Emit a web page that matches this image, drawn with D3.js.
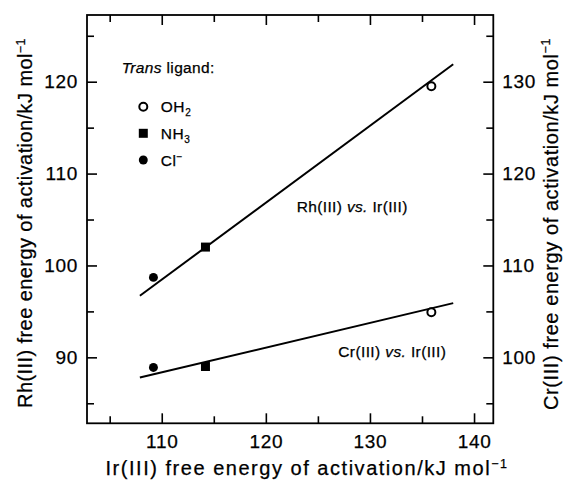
<!DOCTYPE html>
<html>
<head>
<meta charset="utf-8">
<script src="https://cdn.jsdelivr.net/npm/d3@7"></script>
<style>
body { margin: 0; background: #fff; }
svg { display: block; font-family: "Liberation Sans", Arial, sans-serif; }
svg text { stroke: #000; stroke-width: 0.25px; }
</style>
</head>
<body>
<div class="chart"></div>
<script>
// values (kJ/mol)
const ligands = ["OH2", "NH3", "Cl"];
const irEnergy = [135.9, 114.2, 109.2];
const rhEnergy = [119.5, 102.0, 98.7];
const crEnergy = [104.9, 99.0, 98.9];
// fitted lines, end points
const fitIr = [107.9, 138];
const fitRh = [96.7, 121.9];
const fitCr = [97.8, 105.9];
// ticks
const xTicks = [110, 120, 130, 140];
const xMinor = [105, 115, 125, 135];
const yTicks = [90, 100, 110, 120];
const yMinor = [85, 95, 105, 115, 125];
const yRightTicks = [100, 110, 120, 130];
const yRightMinor = [95, 105, 115, 125, 135];

const width = 571;
const height = 488;
const margin = {top: 15, right: 77.7, bottom: 64.7, left: 87};

const svg = d3.select(".chart")
  .append("svg")
  .attr("width", width)
  .attr("height", height);

const x = d3.scaleLinear()
  .domain([102.82, 141.85])
  .range([margin.left, width - margin.right]);

// left axis is Rh(III), right axis is Cr(III), offset by 10
const y = d3.scaleLinear()
  .domain([82.82, 127.26])
  .range([height - margin.bottom, margin.top]);

const yR = d3.scaleLinear()
  .domain([92.82, 137.26])
  .range([height - margin.bottom, margin.top]);

const bottom = height - margin.bottom;
const right = width - margin.right;

// spread letters so a text runs the given width, like the loose typesetting of the original
function spreadTo(t, target) {
  const node = t.node();
  const n = node.textContent.length;
  const len = node.getComputedTextLength();
  t.style("letter-spacing", ((target - len) / n) + "px");
}

// axis helper: draws ticks pointing into the plot
function drawAxis(axis, transform, labelled) {
  const g = svg.append("g")
    .attr("transform", transform)
    .call(axis);
  g.select(".domain").remove();
  g.selectAll(".tick line").attr("stroke", "#000").attr("stroke-width", 1.6);
  g.selectAll(".tick text")
    .attr("fill", "#000")
    .style("font-size", "19px")
    .style("letter-spacing", "0.7px");
  if (!labelled) g.selectAll(".tick text").remove();
  return g;
}

drawAxis(d3.axisBottom(x).tickValues(xTicks).tickSizeInner(-10).tickSizeOuter(0).tickPadding(11.5),
  `translate(0,${bottom})`, true);
drawAxis(d3.axisBottom(x).tickValues(xMinor).tickSizeInner(-7).tickSizeOuter(0),
  `translate(0,${bottom})`, false);
drawAxis(d3.axisTop(x).tickValues(xTicks).tickSizeInner(-10).tickSizeOuter(0),
  `translate(0,${margin.top})`, false);
drawAxis(d3.axisTop(x).tickValues(xMinor).tickSizeInner(-7).tickSizeOuter(0),
  `translate(0,${margin.top})`, false);

drawAxis(d3.axisLeft(y).tickValues(yTicks).tickSizeInner(-10).tickSizeOuter(0).tickPadding(9),
  `translate(${margin.left},0)`, true);
drawAxis(d3.axisLeft(y).tickValues(yMinor).tickSizeInner(-7).tickSizeOuter(0),
  `translate(${margin.left},0)`, false);

drawAxis(d3.axisRight(yR).tickValues(yRightTicks).tickSizeInner(-10).tickSizeOuter(0).tickPadding(9),
  `translate(${right},0)`, true);
drawAxis(d3.axisRight(yR).tickValues(yRightMinor).tickSizeInner(-7).tickSizeOuter(0),
  `translate(${right},0)`, false);

// frame
svg.append("rect")
  .attr("x", margin.left)
  .attr("y", margin.top)
  .attr("width", right - margin.left)
  .attr("height", bottom - margin.top)
  .attr("fill", "none")
  .attr("stroke", "#000")
  .attr("stroke-width", 1.8);

// fit lines
const rhLine = d3.line().x(d => x(d[0])).y(d => y(d[1]));
const crLine = d3.line().x(d => x(d[0])).y(d => yR(d[1]));

svg.append("path")
  .attr("d", rhLine(d3.zip(fitIr, fitRh)))
  .attr("fill", "none").attr("stroke", "#000").attr("stroke-width", 2);
svg.append("path")
  .attr("d", crLine(d3.zip(fitIr, fitCr)))
  .attr("fill", "none").attr("stroke", "#000").attr("stroke-width", 2);

// markers
const markerStyle = {
  OH2: {type: d3.symbolCircle, size: Math.PI * 16, fill: "#fff"},
  NH3: {type: d3.symbolSquare, size: 81, fill: "#000"},
  Cl: {type: d3.symbolCircle, size: Math.PI * 20, fill: "#000"}
};

function drawMarker(sel, ligand) {
  const m = markerStyle[ligand];
  sel.attr("d", d3.symbol().type(m.type).size(m.size)())
    .attr("fill", m.fill)
    .attr("stroke", "#000")
    .attr("stroke-width", ligand === "OH2" ? 2 : 0);
}

const points = ligands.map((l, i) => ({ligand: l, ir: irEnergy[i], rh: rhEnergy[i], cr: crEnergy[i]}));

svg.append("g").selectAll("path")
  .data(points)
  .join("path")
  .attr("transform", d => `translate(${x(d.ir)},${y(d.rh)})`)
  .each(function(d) { drawMarker(d3.select(this), d.ligand); });

svg.append("g").selectAll("path")
  .data(points)
  .join("path")
  .attr("transform", d => `translate(${x(d.ir)},${yR(d.cr)})`)
  .each(function(d) { drawMarker(d3.select(this), d.ligand); });

// legend
const legend = svg.append("g").style("font-size", "15.5px");
const head = legend.append("text").attr("x", 121.7).attr("y", 73.3);
head.append("tspan").style("font-style", "italic").text("Trans");
head.append("tspan").text(" ligand:");
spreadTo(head, 93);

const legendRows = [106.7, 133.3, 160];
ligands.forEach((l, i) => {
  legend.append("path")
    .attr("transform", `translate(143.3,${legendRows[i]})`)
    .call(drawMarker, l);
  const t = legend.append("text").attr("x", 160.7).attr("y", legendRows[i] + 5.5)
    .style("letter-spacing", "0.6px");
  if (l === "Cl") {
    t.append("tspan").text("Cl");
    t.append("tspan").attr("dy", -6).style("font-size", "10px").text("\u2212");
  } else {
    t.append("tspan").text(l.slice(0, 2));
    t.append("tspan").attr("dy", 4).style("font-size", "10px").text(l.slice(2));
  }
});

// line labels
function lineLabel(px, py, metal, w) {
  const t = svg.append("text")
    .attr("x", px).attr("y", py)
    .style("font-size", "15.5px");
  t.append("tspan").text(metal + " ");
  t.append("tspan").style("font-style", "italic").text("vs.");
  t.append("tspan").text(" Ir(III)");
  spreadTo(t, w);
}
lineLabel(296.7, 211.7, "Rh(III)", 111);
lineLabel(338.3, 357.3, "Cr(III)", 108);

// axis titles
function axisTitle(tx, ty, rotate, label, w) {
  const t = svg.append("text")
    .attr("transform", `translate(${tx},${ty}) rotate(${rotate})`)
    .attr("text-anchor", "middle")
    .style("font-size", "20px");
  t.append("tspan").text(label + "/kJ mol");
  t.append("tspan").attr("dy", -7.5).style("font-size", "12.5px").text("\u22121");
  spreadTo(t, w);
}
axisTitle(307, 475, 0, "Ir(III) free energy of activation", 403);
axisTitle(32, 223, -90, "Rh(III) free energy of activation", 370);
axisTitle(557.5, 224, -90, "Cr(III) free energy of activation", 372);
</script>
</body>
</html>
